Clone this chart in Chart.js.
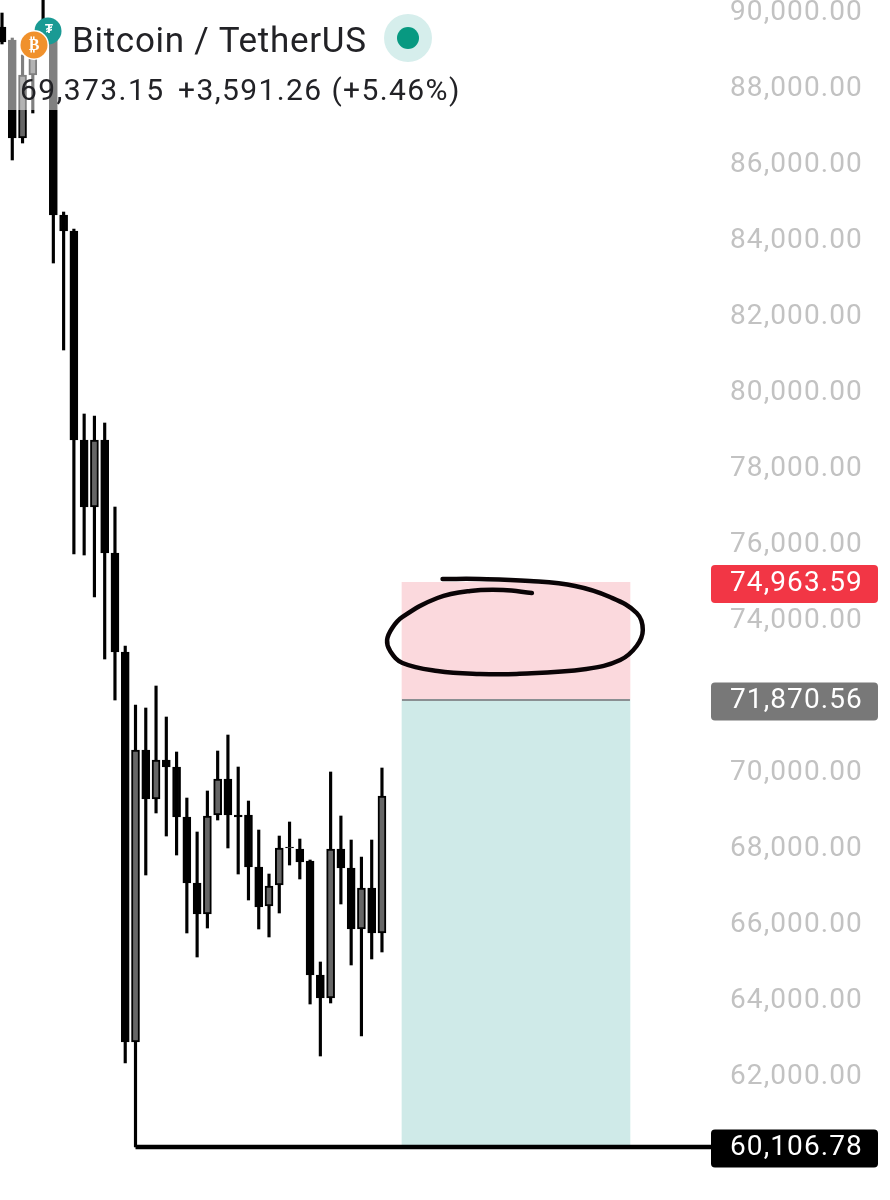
<!DOCTYPE html>
<html><head><meta charset="utf-8">
<script src="https://cdn.jsdelivr.net/npm/chart.js@4"></script>
<style>html,body{margin:0;padding:0;background:#fff}canvas{display:block}</style>
</head><body><canvas id="c" width="890" height="1200"></canvas>
<script>
const title = "Bitcoin / TetherUS";
const lastPrice = "69,373.15";
const changeText = "+3,591.26 (+5.46%)";
const opens  = [89579,89237,86658,88316,89711,89237,84632,84210,78710,76947,78710,75737,73131,62868,70553,69263,70289,70105,68789,67053,66237,68842,69789,68842,68842,67474,66447,67000,67974,67947,67632,64631,64026,67947,67447,65842,66921,65737];
const closes = [89184,86658,88316,88842,89237,84632,84210,78710,76947,78710,75737,73131,62868,70553,69263,70289,70105,68789,67053,66237,68816,69789,68842,68790,67474,66421,66974,67974,68000,67605,64631,64026,67947,67447,65842,66921,65737,69342];
const highs  = [89947,89289,88842,89105,90289,89289,84710,84263,79395,79342,79158,76947,73289,71737,71658,72237,71421,70500,69289,68395,69474,70526,70947,70105,69210,68447,67289,68289,68658,68210,67658,64974,69974,68816,68184,67737,68184,70079];
const lows   = [89132,86079,86526,87316,89105,83368,81079,75710,75684,74579,72947,71868,62316,60106.78,67263,68895,68289,67789,65737,65105,65868,68710,67974,67289,66605,65842,65632,66263,67526,67158,63868,62500,63895,66500,64895,63026,65053,65237];
const stopLevel = 74963.59, entryLevel = 71870.56, targetLevel = 60106.78;
const zoneStart = 38.95, zoneEnd = 61.15, lineStart = 13, lineEnd = 69.04;
const ringX = [42.9,46.5,51.4,55.8,59.2,61.8,62.4,61.8,60.2,56.9,50.1,46.5,42.4,39.0,37.8,37.5,38.0,39.0,42.4,45.6,48.8,51.6];
const ringY = [75053,75053,75000,74868,74579,74158,73710,73290,72921,72684,72553,72553,72632,72842,73158,73447,73763,74053,74553,74737,74763,74684];
const tickValues = [62000,64000,66000,68000,70000,74000,76000,78000,80000,82000,84000,86000,88000,90000];
const tagValues = [stopLevel, entryLevel, targetLevel];
const tagColors = ["#f23645","#787878","#000000"];

const F = 'Roboto,"Liberation Sans",sans-serif';
const fmt = v => v.toLocaleString("en-US",{minimumFractionDigits:2,maximumFractionDigits:2});
const idx = opens.map((_,i)=>i);

const overlay = {
  id:"overlay",
  afterDraw(ch){
    const c = ch.ctx, y = ch.scales.y;
    c.save();
    // price tags
    tagValues.forEach((v,i)=>{
      const py = y.getPixelForValue(v)+1.5;
      c.fillStyle = tagColors[i];
      c.beginPath(); c.roundRect(711,py-19,167,38,4); c.fill();
      c.fillStyle = "#fff"; c.font = "28px "+F; c.textBaseline="middle"; c.textAlign="left";
      c.fillText(fmt(v),730,py);
    });
    // header veil
    c.fillStyle = "rgba(255,255,255,0.5)";
    c.fillRect(8,25,460,85);
    c.letterSpacing = "0px";
    // teal coin
    c.fillStyle="#1a9a94"; c.beginPath(); c.arc(48,31,13.5,0,7); c.fill();
    c.fillStyle="#fff"; c.font="bold 13px "+F; c.textAlign="center"; c.textBaseline="middle"; c.fillText("₮",49,30);
    // orange coin
    c.fillStyle="#fff"; c.beginPath(); c.arc(34,45,15,0,7); c.fill();
    c.fillStyle="#f0912c"; c.beginPath(); c.arc(34,45,13.5,0,7); c.fill();
    c.fillStyle="#fff"; c.font='bold 16px "DejaVu Sans"'; c.fillText("₿",34,46);
    // title
    c.fillStyle="#222226"; c.textAlign="left"; c.textBaseline="alphabetic";
    c.letterSpacing = "0.7px";
    c.font="35px "+F; c.fillText(title,72,52);
    c.letterSpacing = "1.4px";
    c.font="30px "+F;
    c.fillText(lastPrice,20,100);
    c.fillText(changeText,178,100);
    // status dot
    c.fillStyle="#d6eeec"; c.beginPath(); c.arc(408,38,24,0,7); c.fill();
    c.fillStyle="#089981"; c.beginPath(); c.arc(408,38,11,0,7); c.fill();
    c.restore();
  }
};

new Chart(document.getElementById("c"),{
  data:{datasets:[
    {type:"bar",order:9,grouped:false,barThickness:228,backgroundColor:"#fbd9dd",borderWidth:0,
      data:[{x:(zoneStart+zoneEnd)/2,y:[entryLevel,stopLevel]}]},
    {type:"bar",order:8,grouped:false,barThickness:228,backgroundColor:"#cfeae8",borderWidth:0,
      data:[{x:(zoneStart+zoneEnd)/2,y:[targetLevel,entryLevel]}]},
    {type:"line",order:7,borderColor:"#8a8f92",borderWidth:2,pointRadius:0,
      data:[{x:zoneStart,y:entryLevel},{x:zoneEnd,y:entryLevel}]},
    {type:"bar",order:5,grouped:false,barThickness:2.5,backgroundColor:"#000",borderWidth:0,
      data:idx.map(i=>({x:i,y:[lows[i],highs[i]]}))},
    {type:"bar",order:4,grouped:false,barThickness:8,borderColor:"#000",borderWidth:2,borderSkipped:false,
      backgroundColor:idx.map(i=>closes[i]>opens[i]?"#666666":"#000000"),
      data:idx.map(i=>({x:i,y:[opens[i],closes[i]]}))},
    {type:"line",order:3,borderColor:"#000",borderWidth:4.5,pointRadius:0,
      data:[{x:lineStart,y:targetLevel},{x:lineEnd,y:targetLevel}]},
    {type:"line",order:1,borderColor:"#0a0406",borderWidth:4.5,pointRadius:0,tension:0.4,borderCapStyle:"round",borderJoinStyle:"round",
      data:ringX.map((x,i)=>({x,y:ringY[i]}))}
  ]},
  options:{
    responsive:false,animation:false,clip:false,
    layout:{padding:0,autoPadding:false},
    plugins:{legend:{display:false},tooltip:{enabled:false}},
    scales:{
      x:{type:"linear",display:false,min:-0.195,max:69.04,offset:false},
      y:{type:"linear",position:"right",min:58710.53,max:90289.47,
        grid:{display:false,drawTicks:false},border:{display:false},
        afterBuildTicks(ax){ax.ticks=tickValues.map(value=>({value}));},
        afterFit(ax){ax.width=179;ax.paddingTop=0;ax.paddingBottom=0;},
        ticks:{color:"#c2c2c2",padding:19,labelOffset:2,font:{family:F,size:28},autoSkip:false,maxRotation:0,minRotation:0,
          callback:v=>fmt(v)}}
    }
  },
  plugins:[{id:"bg",beforeDraw(ch){ch.ctx.fillStyle="#fff";ch.ctx.fillRect(0,0,890,1200);ch.ctx.letterSpacing="1.1px";}},overlay]
});
</script></body></html>
